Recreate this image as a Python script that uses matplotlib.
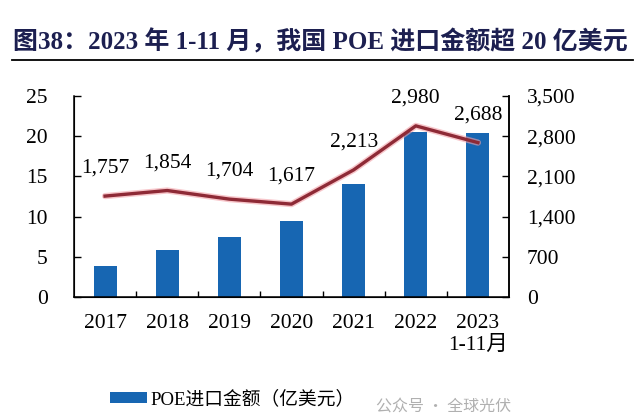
import numpy as np
import matplotlib.pyplot as plt
from matplotlib.lines import Line2D

plt.rcParams['font.family'] = ['Liberation Serif', 'Noto Sans CJK SC']

# data
years = ['2017', '2018', '2019', '2020', '2021', '2022', '2023\n1-11月']
import_value = [3.9, 5.85, 7.5, 9.4, 14.1, 20.5, 20.4]      # 亿美元, left axis
line_values = [1757, 1854, 1704, 1617, 2213, 2980, 2688]    # right axis
left_ticks = [0, 5, 10, 15, 20, 25]
right_ticks = [0, 700, 1400, 2100, 2800, 3500]

BAR_COLOR = '#1766b2'
LINE_COLOR = '#8e2a36'
TITLE_COLOR = '#1c1f50'
FS = 15.5


def plot_poe_imports():
    fig = plt.figure(figsize=(6.4, 4.17), dpi=100)
    ax = fig.add_axes([0.1156, 0.2878, 0.6797, 0.482])
    x = np.arange(len(years))

    ax.bar(x, import_value, width=0.37, color=BAR_COLOR,
           label='POE进口金额（亿美元）', zorder=2)
    ax.set_xlim(-0.5, len(years) - 0.5)
    ax.set_ylim(0, 25)
    ax.set_yticks(left_ticks)
    ax.set_xticks(x)
    ax.set_xticklabels(years, fontsize=FS, linespacing=1.2)
    ax.set_xticks(x[:-1] + 0.5, minor=True)
    ax.tick_params(axis='x', which='major', length=0, pad=12)
    ax.tick_params(axis='x', which='minor', direction='in', length=4, width=1)
    ax.tick_params(axis='y', direction='in', length=5, width=1, labelsize=FS, pad=19)
    ax.spines['top'].set_visible(False)
    for s in ['left', 'bottom', 'right']:
        ax.spines[s].set_linewidth(1.1)

    ax2 = ax.twinx()
    ax2.plot(x, line_values, color='#f2a0a8', linewidth=4.5, alpha=0.6,
             solid_capstyle='round', zorder=3)
    ax2.plot(x, line_values, color=LINE_COLOR, linewidth=2.4, zorder=4)
    ax2.set_ylim(0, 3500)
    ax2.set_yticks(right_ticks)
    ax2.set_yticklabels([f'{v:,}' for v in right_ticks])
    ax2.tick_params(axis='y', direction='in', length=5, width=1, labelsize=FS, pad=13)
    ax2.spines['top'].set_visible(False)
    ax2.spines['right'].set_linewidth(1.1)
    for xi, v in zip(x, line_values):
        ax2.annotate(f'{v:,}', (xi, v), xytext=(0, 20), textcoords='offset points',
                     ha='center', va='center', fontsize=FS)

    # title with rule underneath
    fig.text(0.02, 0.899, '图38：2023 年 1-11 月，我国 POE 进口金额超 20 亿美元',
             fontsize=18, fontweight='bold', color=TITLE_COLOR, va='center', ha='left')
    fig.add_artist(Line2D([0.019, 0.989], [0.856, 0.856], color='black',
                          linewidth=1.3, transform=fig.transFigure))

    fig.legend(loc='center left', bbox_to_anchor=(0.145, 0.042), frameon=False,
               fontsize=13.5, handlelength=2.0, handleheight=0.55, handletextpad=0.2)
    fig.text(0.588, 0.025, '公众号 · 全球光伏', fontsize=11.5, color='#b0b0b0',
             family=['Noto Sans CJK SC'], va='center', ha='left')

    fig.savefig('out.png', dpi=100)


if __name__ == '__main__':
    plot_poe_imports()
